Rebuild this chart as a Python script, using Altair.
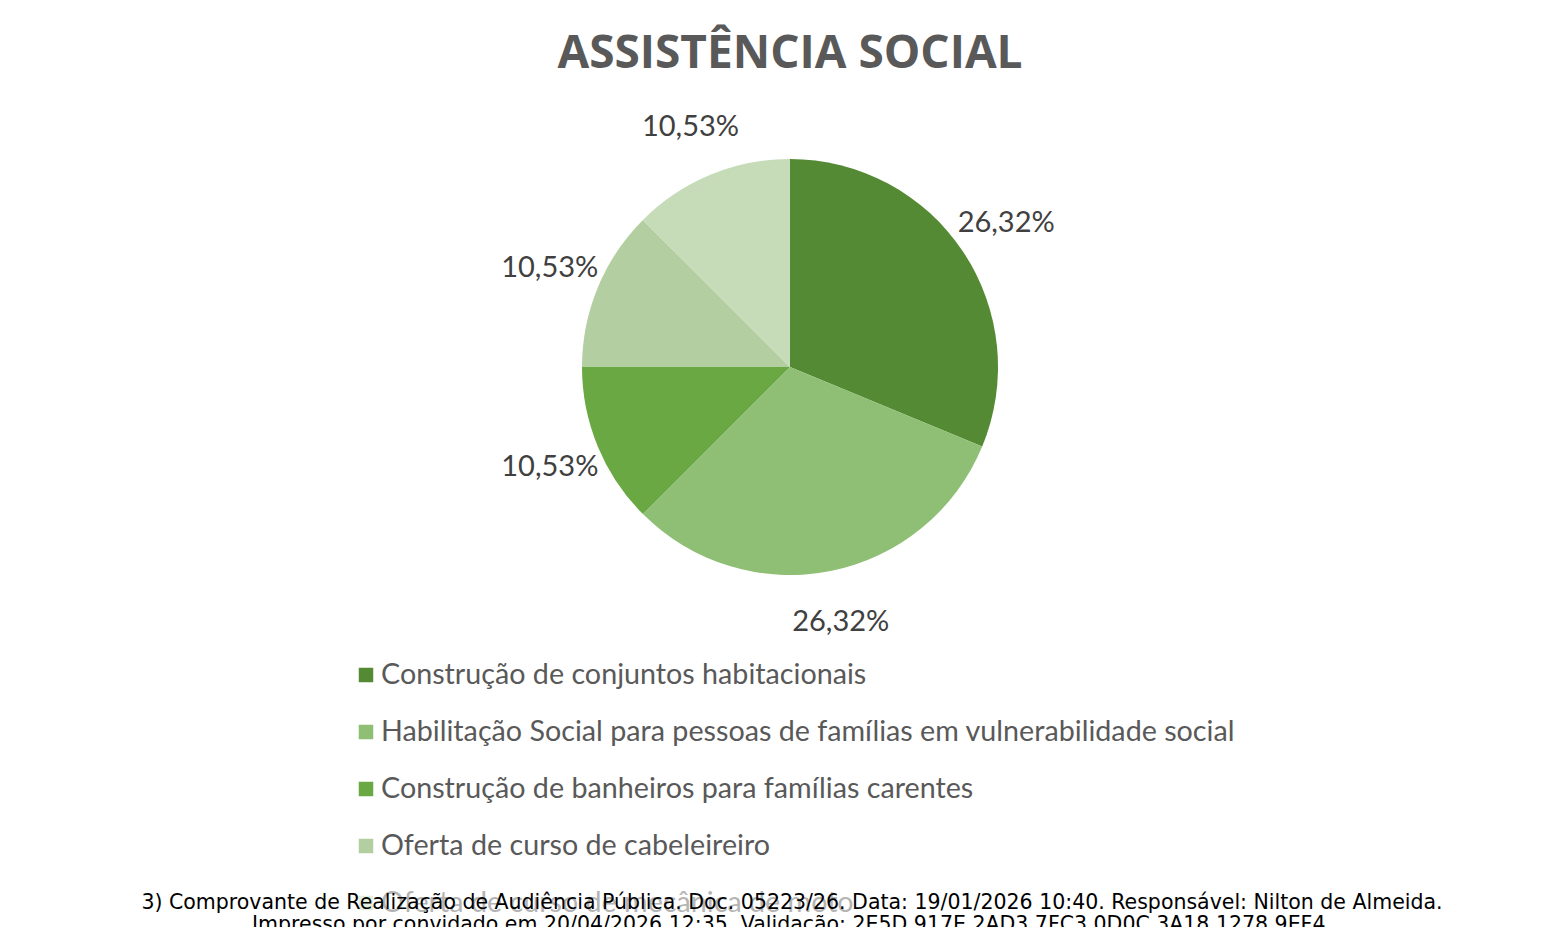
import altair as alt
import pandas as pd

title_text = "ASSISTÊNCIA SOCIAL"
categories = [
    "Construção de conjuntos habitacionais",
    "Habilitação Social para pessoas de famílias em vulnerabilidade social",
    "Construção de banheiros para famílias carentes",
    "Oferta de curso de cabeleireiro",
    "Oferta de curso de mecânica de moto",
]
values = [26.32, 26.32, 10.53, 10.53, 10.53]
colors = ["#548a33", "#8fbf74", "#69a843", "#b3cfa1", "#c6dcb8"]
footer_lines = [
    "3) Comprovante de Realização de Audiência Pública. Doc. 05223/26. Data: 19/01/2026 10:40. Responsável: Nilton de Almeida.",
    "Impresso por convidado em 20/04/2026 12:35. Validação: 2E5D.917E.2AD3.7FC3.0D0C.3A18.1278.9EF4.",
]

labels = [f"{v:.2f}".replace(".", ",") + "%" for v in values]
df = pd.DataFrame({"category": categories, "value": values,
                   "order": list(range(len(values))), "label": labels})

CX, CY = 782, 359
FONT = "Lato"

base = alt.Chart(df)
color_enc = alt.Color("category:N", scale=alt.Scale(domain=categories, range=colors), legend=None)

pie = base.mark_arc(outerRadius=208).encode(
    theta=alt.Theta("value:Q", stack=True),
    color=color_enc,
    order=alt.Order("order:Q"),
    x=alt.value(CX), y=alt.value(CY),
)

pie_labels = base.mark_text(radius=260, fontSize=29, font=FONT, color="#404040").encode(
    theta=alt.Theta("value:Q", stack=True),
    order=alt.Order("order:Q"),
    text="label:N",
    x=alt.value(CX), y=alt.value(CY),
)

ypos = alt.Y("category:N", sort=categories,
             scale=alt.Scale(type="point", domain=categories, range=[667, 895], padding=0),
             axis=None)

leg_sym = base.mark_square(size=210, opacity=1).encode(
    x=alt.value(358), y=ypos, color=color_enc,
)
leg_txt = base.mark_text(align="left", baseline="middle", fontSize=28.7, font=FONT, color="#595959").encode(
    x=alt.value(373), y=ypos, text="category:N",
)

one = alt.Chart(pd.DataFrame({"a": [0]}))
title = one.mark_text(text=title_text, font="Open Sans", fontWeight="bold", fontSize=46,
                      color="#595959", baseline="middle").encode(x=alt.value(CX), y=alt.value(46))
fade = one.mark_rect(color="white", opacity=0.55).encode(
    x=alt.value(0), x2=alt.value(1529), y=alt.value(876), y2=alt.value(919))
foot1 = one.mark_text(text=footer_lines[0], font="DejaVu Sans", fontSize=20.5, color="#000000",
                      baseline="middle").encode(x=alt.value(784), y=alt.value(895))
foot2 = one.mark_text(text=footer_lines[1], font="DejaVu Sans", fontSize=20.5, color="#000000",
                      baseline="middle").encode(x=alt.value(784), y=alt.value(917))

chart = alt.layer(title, pie, pie_labels, leg_sym, leg_txt, fade, foot1, foot2).properties(
    width=1529, height=919, padding=0, autosize=alt.AutoSizeParams(type="none"),
    background="white",
).configure_view(stroke=None)

chart.save("out.html", embed_options={"renderer": "svg", "actions": False})
